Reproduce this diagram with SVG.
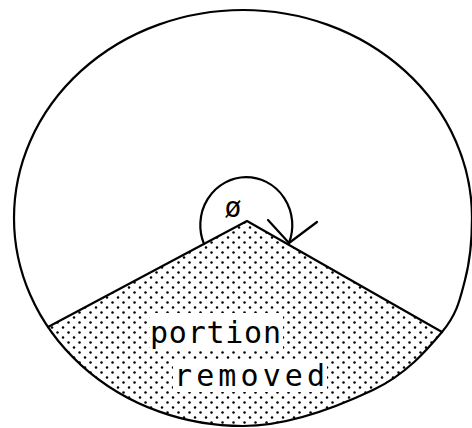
<svg xmlns="http://www.w3.org/2000/svg" width="472" height="428" viewBox="0 0 472 428">
<defs>
<pattern id="dots" width="11" height="10" patternUnits="userSpaceOnUse">
<circle cx="2.5" cy="2.5" r="1.25" fill="#000"/>
<circle cx="8" cy="7.5" r="1.25" fill="#000"/>
</pattern>
</defs>
<style>
.ln{fill:none;stroke:#000;stroke-width:2.2;stroke-linejoin:round;stroke-linecap:round}
.lbl{font-family:"DejaVu Sans Mono","Liberation Mono",monospace;fill:#000}
</style>
<rect width="472" height="428" fill="#fff"/>
<g id="removed-portion">
<path fill="url(#dots)" d="M48,327 L247,221 L442,332 C426.7,350.3 406.2,374.3 373,390 C339.8,405.7 288,426 243,426 A229 208 0 0 1 48,327 Z"/>
<rect x="150" y="313" width="133" height="37" fill="#fff"/>
<rect x="173" y="360" width="154" height="32" fill="#fff"/>
<path class="ln" d="M48,327 L247,221 L442,332"/>
<text class="lbl" x="150" y="343" font-size="30" textLength="131" lengthAdjust="spacing">portion</text>
<text class="lbl" x="174" y="386" font-size="30" textLength="151" lengthAdjust="spacing">removed</text>
</g>
<g id="disc">
<path class="ln" d="M243,426 A229 208 0 1 1 472,218 C472,239 470,261 465,280 C460,299 457.3,313.7 442,332 C426.7,350.3 406.2,374.3 373,390 C339.8,405.7 288,426 243,426 Z"/>
</g>
<g id="angle">
<path class="ln" d="M204,244 A46 48 0 1 1 289,243"/>
<path class="ln" d="M268,220 L289,243 L317,222"/>
<text class="lbl" x="233" y="217" font-size="28" text-anchor="middle">ø</text>
</g>
</svg>
